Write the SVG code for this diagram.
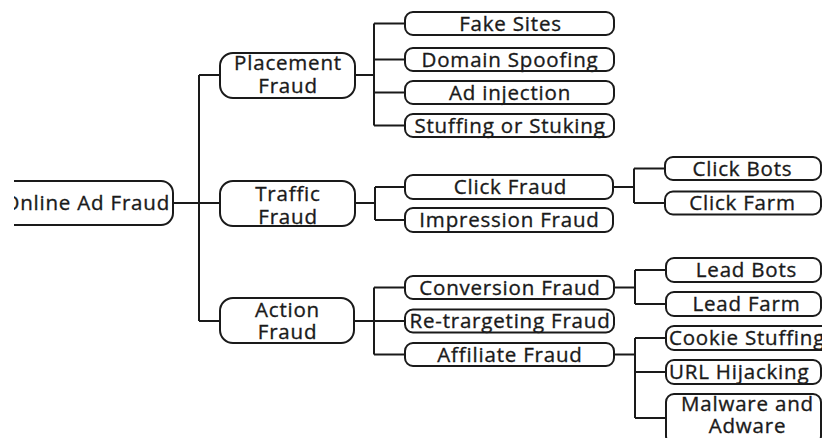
<svg xmlns="http://www.w3.org/2000/svg" width="822" height="438" viewBox="0 0 822 438">
<style>
.box{fill:#fff;stroke:#1a1a1a;stroke-width:2}
.t{font-family:"Open Sans","Noto Sans",sans-serif;font-size:20.5px;letter-spacing:0.8px;fill:#1a1a1a;stroke:#1a1a1a;stroke-width:0.35;text-anchor:middle}
.c{fill:none;stroke:#1a1a1a;stroke-width:2}
</style>
<defs>
<clipPath id="cl"><rect x="14" y="0" width="808" height="438"/></clipPath>
</defs>
<rect width="822" height="438" fill="#fff"/>
<g id="connectors" class="c">
<path d="M173,203H199M199,75V321M199,75H220M199,203H220M199,321H220"/>
<path d="M355,75H374M374,23.5V125.5M374,23.5H405M374,59.5H405M374,92.5H405M374,125.5H405"/>
<path d="M355,203H375M375,187V220M375,187H405M375,220H405"/>
<path d="M613,187H634M634,168.5V203M634,168.5H665M634,203H665"/>
<path d="M354,321H374M374,287.5V354.5M374,287.5H405M374,321H405M374,354.5H405"/>
<path d="M614,287.5H635M635,270V304M635,270H666M635,304H666"/>
<path d="M614,354.5H635M635,338V418M635,338H666M635,372H666M635,418H666"/>
</g>
<g id="root" clip-path="url(#cl)">
<rect class="box" x="-10" y="181" width="183" height="44" rx="12"/>
<text class="t" x="170" y="209.5" style="text-anchor:end">Online Ad Fraud</text>
</g>
<g id="placement">
<rect class="box" x="220" y="53" width="135" height="45" rx="13"/>
<text class="t" x="288" y="70">Placement</text>
<text class="t" x="288" y="93">Fraud</text>
</g>
<g id="traffic">
<rect class="box" x="220" y="181" width="135" height="45" rx="13"/>
<text class="t" x="288" y="200.5">Traffic</text>
<text class="t" x="288" y="223.5">Fraud</text>
</g>
<g id="action">
<rect class="box" x="220" y="298" width="134" height="45" rx="13"/>
<text class="t" x="287.5" y="317">Action</text>
<text class="t" x="287.5" y="339">Fraud</text>
</g>
<g id="fake-sites">
<rect class="box" x="405" y="12" width="209" height="23" rx="8"/>
<text class="t" x="510.5" y="30.5">Fake Sites</text>
</g>
<g id="domain-spoofing">
<rect class="box" x="405" y="48" width="209" height="23" rx="8"/>
<text class="t" x="510" y="66.5">Domain Spoofing</text>
</g>
<g id="ad-injection">
<rect class="box" x="405" y="81" width="209" height="23" rx="8"/>
<text class="t" x="510" y="99.5">Ad injection</text>
</g>
<g id="stuffing">
<rect class="box" x="405" y="114" width="209" height="23" rx="8"/>
<text class="t" x="510" y="132.5">Stuffing or Stuking</text>
</g>
<g id="click-fraud">
<rect class="box" x="405" y="175" width="208" height="24" rx="8"/>
<text class="t" x="510.5" y="194">Click Fraud</text>
</g>
<g id="impression-fraud">
<rect class="box" x="405" y="208" width="208" height="24" rx="8"/>
<text class="t" x="509.5" y="227">Impression Fraud</text>
</g>
<g id="click-bots">
<rect class="box" x="665" y="157" width="156" height="23" rx="8"/>
<text class="t" x="742.5" y="175.5">Click Bots</text>
</g>
<g id="click-farm">
<rect class="box" x="665" y="191.5" width="156" height="23" rx="8"/>
<text class="t" x="742.5" y="210">Click Farm</text>
</g>
<g id="conversion-fraud">
<rect class="box" x="405" y="276" width="209" height="23" rx="8"/>
<text class="t" x="510" y="294.5">Conversion Fraud</text>
</g>
<g id="retargeting-fraud">
<rect class="box" x="405" y="309.5" width="209" height="23" rx="8"/>
<text class="t" x="510" y="328">Re-trargeting Fraud</text>
</g>
<g id="affiliate-fraud">
<rect class="box" x="405" y="343" width="209" height="23" rx="8"/>
<text class="t" x="510" y="361.5">Affiliate Fraud</text>
</g>
<g id="lead-bots">
<rect class="box" x="666" y="258" width="155" height="24" rx="8"/>
<text class="t" x="746.5" y="277">Lead Bots</text>
</g>
<g id="lead-farm">
<rect class="box" x="666" y="292" width="155" height="24" rx="8"/>
<text class="t" x="746.5" y="311">Lead Farm</text>
</g>
<g id="cookie-stuffing">
<rect class="box" x="666" y="326" width="170" height="24" rx="8"/>
<text class="t" x="669" y="345" style="text-anchor:start">Cookie Stuffing</text>
</g>
<g id="url-hijacking">
<rect class="box" x="666" y="360" width="155" height="24" rx="8"/>
<text class="t" x="669" y="379" style="text-anchor:start">URL Hijacking</text>
</g>
<g id="malware">
<rect class="box" x="666" y="394" width="155" height="50" rx="8"/>
<text class="t" x="747.5" y="411">Malware and</text>
<text class="t" x="747.5" y="432.5">Adware</text>
</g>
</svg>
